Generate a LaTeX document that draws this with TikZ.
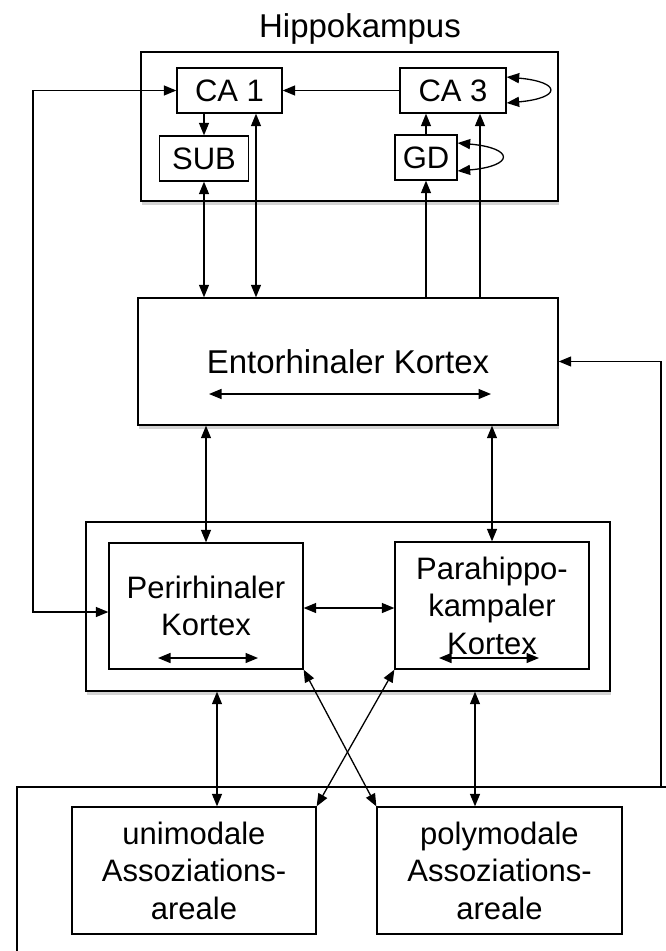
\documentclass[tikz,border=0pt]{standalone}
\usepackage{fontspec}
\setmainfont{Liberation Sans}
\usetikzlibrary{arrows.meta,shadows}

\begin{document}
\begin{tikzpicture}[
  x=1pt,y=-1pt,
  >={Triangle[length=12.5pt,width=10pt]},
  box/.style={draw,line width=1.3pt,inner sep=0pt,align=center,font=\fontsize{31}{37.5}\selectfont},
  area/.style={draw,line width=1.4pt,fill=white,inner sep=0pt,
    drop shadow={shadow xshift=1pt,shadow yshift=-4pt,opacity=.35}},
  link/.style={line width=1.3pt}
]
  \useasboundingbox (0,0) rectangle (665,951);

  \node[font=\fontsize{33}{40}\selectfont,anchor=base] (title) at (360,37) {Hippokampus};
  \node[area,minimum width=417pt,minimum height=149pt] (hippo) at (349.5,126.5) {};
  \node[area,minimum width=420pt,minimum height=127pt,font=\fontsize{33}{40}\selectfont] (EC) at (348,361.5) {Entorhinaler Kortex};
  \node[area,minimum width=524pt,minimum height=169pt] (cortex) at (348,606.5) {};

  \node[box,minimum width=105pt,minimum height=45pt] (CA1) at (229.5,90.5) {CA 1};
  \node[box,minimum width=106pt,minimum height=45pt] (CA3) at (453,90.5) {CA 3};
  \node[box,minimum width=89pt,minimum height=45pt] (SUB) at (204,158.5) {SUB};
  \node[box,minimum width=62pt,minimum height=45pt] (GD) at (426,157.5) {GD};

  \node[box,minimum width=194pt,minimum height=126pt] (peri) at (206,606) {Perirhinaler\\Kortex};
  \node[box,minimum width=194pt,minimum height=127pt] (para) at (492,605.5) {Parahippo-\\kampaler\\Kortex};

  \draw[line width=1.4pt] (17,960) -- (17,787) -- (675,787);
  \node[box,minimum width=244pt,minimum height=127pt] (uni) at (194,870.5) {unimodale\\Assoziations-\\areale};
  \node[box,minimum width=245pt,minimum height=127pt] (poly) at (499.5,870.5) {polymodale\\Assoziations-\\areale};

  \coordinate (c1) at ([xshift=26.5pt]CA1.south);
  \coordinate (c3) at ([xshift=27pt]CA3.south);
  \coordinate (lft) at (33,612);
  \coordinate (rgt) at (661,787);
  \coordinate (u1) at ([xshift=23pt]uni.north);
  \coordinate (p1) at ([xshift=-24.5pt]poly.north);

  \draw[link,->] (CA3) -- (CA1);
  \draw[link,->] (CA1.south -| SUB.north) -- (SUB.north);
  \draw[link,<->] (SUB.south) -- (SUB.south |- EC.north);
  \draw[link,<->] (c1) -- (c1 |- EC.north);
  \draw[link,->] (GD.north) -- (GD.north |- CA3.south);
  \draw[link,->] (GD.south |- EC.north) -- (GD.south);
  \draw[link,->] (c3 |- EC.north) -- (c3);
  \draw[link,<->] ([yshift=13.5pt]CA3.east) .. controls +(55,5) and +(55,-5) .. ([yshift=-12.5pt]CA3.east);
  \draw[link,<->] ([yshift=14.5pt]GD.east) .. controls +(57,5) and +(57,-5) .. ([yshift=-13.5pt]GD.east);

  \draw[link,<->] (CA1.west) -| (lft) -- (lft -| peri.west);
  \draw[link,->] (rgt) |- (EC.east);

  \draw[link,<->] ([xshift=-139pt,yshift=-32.5pt]EC.center) -- ([xshift=143pt,yshift=-32.5pt]EC.center);
  \draw[link,<->] (EC.south -| peri.north) -- (peri.north);
  \draw[link,<->] (EC.south -| para.north) -- (para.north);

  \draw[link,<->] ([yshift=-2pt]peri.east) -- ([yshift=-2pt]peri.east -| para.west);
  \draw[link,<->] ([xshift=-48pt,yshift=-52pt]peri.center) -- ([xshift=52pt,yshift=-52pt]peri.center);
  \draw[link,<->] ([xshift=-53pt,yshift=-52.5pt]para.center) -- ([xshift=47pt,yshift=-52.5pt]para.center);

  \draw[link,<->] (u1 |- cortex.south) -- (u1);
  \draw[link,<->] (p1 |- cortex.south) -- (p1);
  \draw[link,<->] (peri.south east) -- (poly.north west);
  \draw[link,<->] (para.south west) -- (uni.north east);
\end{tikzpicture}
\end{document}
